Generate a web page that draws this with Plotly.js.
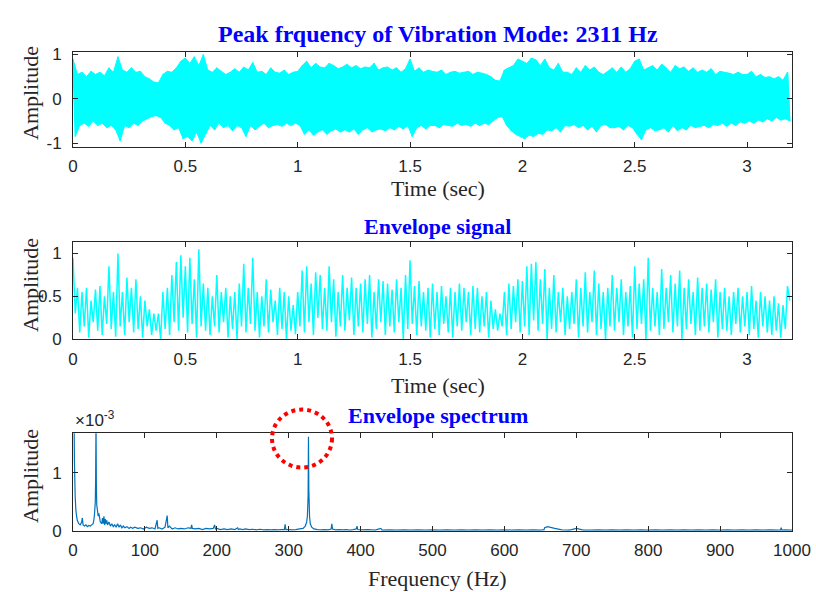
<!DOCTYPE html>
<html><head><meta charset="utf-8">
<script src="https://cdn.plot.ly/plotly-3.0.1.min.js"></script>
<style>html,body{margin:0;padding:0;background:#fff}#chart{width:816px;height:592px}</style>
</head><body><div id="chart"></div>
<script>
// ---- data ----
const sampleStep = 0.02; // seconds per envelope bin
const vibHigh = [
 0.9,0.55,0.6,0.5,0.62,0.55,0.6,0.52,0.7,0.6,
 0.95,0.65,0.6,0.7,0.6,0.62,0.5,0.45,0.38,0.36,
 0.55,0.62,0.6,0.7,0.85,0.92,0.8,0.95,0.75,1.0,
 0.65,0.6,0.7,0.62,0.55,0.6,0.68,0.6,0.72,0.65,
 0.82,0.6,0.62,0.55,0.7,0.6,0.58,0.65,0.55,0.6,
 0.62,0.75,0.85,0.7,0.8,0.72,0.7,0.8,0.75,0.68,
 0.72,0.78,0.7,0.75,0.68,0.72,0.7,0.8,0.65,0.7,
 0.72,0.65,0.7,0.6,0.68,0.9,0.62,0.7,0.6,0.65,
 0.62,0.6,0.65,0.55,0.6,0.62,0.58,0.6,0.62,0.55,
 0.6,0.58,0.55,0.5,0.42,0.4,0.65,0.7,0.75,0.9,
 0.85,0.8,0.92,0.88,0.75,0.9,0.7,0.65,0.8,0.6,
 0.6,0.55,0.7,0.6,0.75,0.65,0.72,0.6,0.55,0.62,
 0.7,0.6,0.72,0.6,0.68,0.85,0.9,0.65,0.7,0.75,
 0.65,0.78,0.7,0.6,0.75,0.68,0.72,0.62,0.7,0.6,
 0.65,0.6,0.68,0.55,0.62,0.6,0.58,0.55,0.6,0.55,
 0.55,0.62,0.5,0.55,0.48,0.5,0.45,0.5,0.42,0.6];
const vibLow = [
 -0.85,-0.6,-0.55,-0.62,-0.5,-0.6,-0.55,-0.65,-0.6,-0.7,
 -0.95,-0.6,-0.65,-0.55,-0.6,-0.5,-0.45,-0.4,-0.38,-0.42,
 -0.55,-0.6,-0.7,-0.65,-0.9,-0.85,-0.95,-0.75,-1.0,-0.8,
 -0.6,-0.7,-0.55,-0.65,-0.6,-0.72,-0.6,-0.65,-0.85,-0.6,
 -0.7,-0.62,-0.55,-0.65,-0.6,-0.58,-0.62,-0.55,-0.6,-0.55,
 -0.6,-0.8,-0.7,-0.82,-0.75,-0.7,-0.8,-0.72,-0.68,-0.75,
 -0.7,-0.75,-0.68,-0.8,-0.7,-0.65,-0.75,-0.7,-0.68,-0.72,
 -0.65,-0.7,-0.62,-0.68,-0.6,-0.85,-0.65,-0.6,-0.68,-0.6,
 -0.6,-0.65,-0.58,-0.6,-0.62,-0.55,-0.6,-0.58,-0.62,-0.55,
 -0.6,-0.55,-0.58,-0.5,-0.42,-0.4,-0.6,-0.72,-0.8,-0.85,
 -0.9,-0.82,-0.85,-0.78,-0.8,-0.7,-0.72,-0.65,-0.75,-0.6,
 -0.62,-0.58,-0.65,-0.6,-0.7,-0.62,-0.75,-0.6,-0.58,-0.65,
 -0.65,-0.62,-0.7,-0.6,-0.65,-0.8,-0.92,-0.7,-0.65,-0.72,
 -0.7,-0.65,-0.75,-0.6,-0.72,-0.65,-0.7,-0.6,-0.65,-0.62,
 -0.6,-0.65,-0.58,-0.6,-0.55,-0.62,-0.55,-0.6,-0.52,-0.55,
 -0.5,-0.55,-0.48,-0.52,-0.45,-0.5,-0.42,-0.48,-0.45,-0.5];
const envHigh = [
 0.95,0.6,0.55,0.6,0.45,0.58,0.62,0.5,0.85,0.55,
 1.0,0.55,0.72,0.6,0.7,0.5,0.45,0.35,0.3,0.3,
 0.55,0.6,0.75,0.9,0.98,0.85,0.95,0.7,1.05,0.65,
 0.6,0.5,0.75,0.55,0.6,0.5,0.55,0.65,0.88,0.6,
 0.95,0.55,0.5,0.7,0.58,0.45,0.6,0.55,0.5,0.4,
 0.55,0.8,0.85,0.65,0.78,0.75,0.6,0.85,0.7,0.55,
 0.75,0.6,0.72,0.6,0.65,0.7,0.75,0.55,0.7,0.68,
 0.65,0.58,0.7,0.6,0.75,0.92,0.62,0.68,0.55,0.6,
 0.65,0.55,0.62,0.5,0.6,0.55,0.65,0.6,0.55,0.62,
 0.6,0.5,0.55,0.45,0.35,0.3,0.55,0.65,0.62,0.7,
 0.68,0.85,0.88,0.9,0.7,0.82,0.6,0.75,0.55,0.6,
 0.5,0.55,0.7,0.6,0.78,0.55,0.8,0.65,0.55,0.6,
 0.75,0.6,0.7,0.55,0.62,0.85,0.65,0.7,0.95,0.6,
 0.55,0.82,0.6,0.75,0.65,0.8,0.6,0.7,0.55,0.72,
 0.6,0.65,0.58,0.7,0.55,0.6,0.5,0.55,0.6,0.5,
 0.55,0.62,0.45,0.55,0.5,0.45,0.5,0.42,0.4,0.62];
const envLow = [
 0.3,0.08,0.15,0.02,0.2,0.1,0.05,0.18,0.12,0.03,
 0.15,0.05,0.2,0.08,0.12,0.02,0.15,0.05,0.1,0.0,
 0.12,0.05,0.2,0.1,0.25,0.08,0.18,0.02,0.15,0.1,
 0.05,0.15,0.08,0.2,0.02,0.12,0.0,0.15,0.08,0.18,
 0.1,0.02,0.15,0.08,0.2,0.05,0.12,0.0,0.1,0.06,
 0.15,0.08,0.2,0.05,0.25,0.12,0.1,0.2,0.03,0.15,
 0.1,0.22,0.05,0.15,0.08,0.18,0.02,0.12,0.2,0.05,
 0.15,0.08,0.2,0.0,0.12,0.18,0.05,0.15,0.1,0.02,
 0.12,0.05,0.18,0.08,0.02,0.15,0.1,0.2,0.05,0.12,
 0.08,0.15,0.02,0.12,0.1,0.15,0.05,0.12,0.2,0.08,
 0.15,0.05,0.22,0.1,0.18,0.0,0.12,0.08,0.2,0.05,
 0.12,0.18,0.02,0.15,0.08,0.2,0.05,0.12,0.0,0.15,
 0.1,0.2,0.05,0.15,0.02,0.12,0.18,0.0,0.1,0.15,
 0.05,0.12,0.2,0.08,0.15,0.0,0.12,0.18,0.05,0.1,
 0.15,0.08,0.2,0.02,0.12,0.1,0.05,0.18,0.08,0.15,
 0.05,0.12,0.02,0.15,0.08,0.05,0.1,0.02,0.12,0.45];
const specFreq = [0,0.5,1,1.5,2,3,4,5,6,8,10,12,13,14,16,18,20,22,24,26,28,29,30,31,31.5,32,32.5,33,34,35,36,38,40,41,42,43,44,45,46,47,48,50,52,54,56,58,60,62,64,66,68,70,72,75,78,80,83,86,90,94,98,102,106,110,114,117,118,120,124,128,131,132,134,138,142,146,150,155,160,164,165,166,170,175,180,185,190,195,197,198,200,205,210,215,220,225,229,230,232,236,240,245,250,255,260,265,270,275,280,285,290,294,295,296,300,305,310,315,320,323,325,326,327,327.5,328,329,330,332,335,340,345,350,355,359,360,361,365,370,375,380,385,390,394,395,396,400,410,420,428,430,440,450,460,470,480,490,500,510,520,530,540,550,560,570,580,590,600,610,620,630,640,650,654,655,656,660,670,680,689,690,691,700,710,720,730,740,750,760,770,780,790,800,810,820,830,840,850,860,870,880,890,900,910,920,930,940,950,960,970,980,984,985,986,990,1000];
const specAmp = [4,3,2.5,1.9,1.2,0.6,0.35,0.25,0.18,0.12,0.1,0.15,0.22,0.1,0.08,0.1,0.07,0.09,0.08,0.1,0.12,0.18,0.3,0.5,0.9,1.9,0.8,0.45,0.35,0.25,0.3,0.15,0.12,0.22,0.12,0.25,0.1,0.2,0.12,0.18,0.1,0.15,0.08,0.12,0.07,0.1,0.06,0.12,0.06,0.1,0.05,0.08,0.05,0.07,0.04,0.06,0.04,0.06,0.04,0.05,0.03,0.06,0.04,0.05,0.03,0.18,0.04,0.05,0.03,0.06,0.26,0.05,0.08,0.03,0.05,0.03,0.04,0.03,0.05,0.04,0.1,0.04,0.03,0.04,0.02,0.04,0.03,0.04,0.1,0.03,0.04,0.02,0.03,0.02,0.03,0.02,0.05,0.02,0.03,0.02,0.03,0.02,0.025,0.015,0.025,0.015,0.02,0.015,0.02,0.015,0.02,0.02,0.11,0.02,0.02,0.015,0.02,0.03,0.04,0.08,0.15,0.25,0.6,1.62,0.7,0.25,0.12,0.06,0.03,0.02,0.015,0.02,0.015,0.03,0.12,0.03,0.015,0.02,0.015,0.02,0.01,0.02,0.03,0.08,0.02,0.015,0.02,0.01,0.04,0.01,0.015,0.01,0.015,0.01,0.015,0.01,0.015,0.01,0.015,0.01,0.015,0.01,0.015,0.01,0.015,0.01,0.015,0.01,0.015,0.01,0.015,0.01,0.015,0.015,0.05,0.07,0.04,0.015,0.01,0.015,0.01,0.04,0.01,0.01,0.015,0.01,0.015,0.01,0.015,0.01,0.015,0.01,0.015,0.01,0.015,0.01,0.015,0.01,0.015,0.01,0.015,0.01,0.015,0.01,0.015,0.01,0.015,0.01,0.015,0.01,0.01,0.05,0.01,0.015,0.01];
const timeTicks = [0,0.5,1,1.5,2,2.5,3];
const timeTickText = ['0','0.5','1','1.5','2','2.5','3'];
const freqTicks = [0,100,200,300,400,500,600,700,800,900,1000];
const vibTicks = [-1,0,1];
const vibTickText = ['-1','0','1'];
const envTicks = [0,0.5,1];
const specTicks = [0,1];
const titles = ['Peak frquency of Vibration Mode: 2311 Hz','Envelope signal','Envelope spectrum'];

// ---- build zig-zag traces (max then min in each bin) ----
function zigzag(hi, lo){
  const x = [], y = [];
  for (let i = 0; i < hi.length; i++){
    x.push(i*sampleStep); y.push(hi[i]);
    x.push(i*sampleStep + sampleStep/2); y.push(lo[i]);
  }
  return {x, y};
}
// closed band polygon (upper envelope forward, lower envelope back)
function band(hi, lo){
  const x = [], y = [];
  for (let i = 0; i < hi.length; i++){ x.push(i*sampleStep); y.push(hi[i]); }
  for (let i = lo.length-1; i >= 0; i--){ x.push(i*sampleStep + sampleStep/2); y.push(lo[i]); }
  return {x, y};
}
const vib = zigzag(vibHigh, vibLow);
const vibBand = band(vibHigh, vibLow);
const env = zigzag(envHigh, envLow);

const H = 592;
const frac = px => (H - px)/H;
const dom1 = [frac(146.7), frac(52.3)];
const dom2 = [frac(339.3), frac(242.3)];
const dom3 = [frac(530.7), frac(433.3)];
const ranges = {y1:[-1.08,1.05], y2:[0,1.13], y3:[0,1.68]};

const tickFont = {family:'Liberation Sans, Arial, sans-serif', size:17, color:'#262626'};
const serif = 'Liberation Serif, Times New Roman, serif';
function ax(extra){
  return Object.assign({showline:true, mirror:'ticks', linecolor:'#262626', linewidth:1,
    ticks:'inside', ticklen:5, tickcolor:'#262626', tickwidth:1, showgrid:false, zeroline:false,
    tickfont:tickFont, fixedrange:true}, extra);
}

const traces = [
  {x:vibBand.x, y:vibBand.y, xaxis:'x', yaxis:'y', type:'scatter', mode:'lines', fill:'toself', fillcolor:'#00FFFF', line:{color:'#00FFFF', width:1, simplify:false}, hoverinfo:'skip'},
  {x:vib.x, y:vib.y, xaxis:'x', yaxis:'y', type:'scatter', mode:'lines', line:{color:'#00FFFF', width:1.5, simplify:false}, hoverinfo:'skip'},
  {x:env.x, y:env.y, xaxis:'x2', yaxis:'y2', type:'scatter', mode:'lines', line:{color:'#00FFFF', width:1.5, simplify:false}, hoverinfo:'skip'},
  {x:specFreq, y:specAmp, xaxis:'x3', yaxis:'y3', type:'scatter', mode:'lines', line:{color:'#0072BD', width:1.2, simplify:false}, hoverinfo:'skip'}
];

// locate the highlighted peak (300-400 Hz) from the data
let pk = -1;
for (let i = 0; i < specFreq.length; i++){
  if (specFreq[i] > 300 && specFreq[i] < 400 && (pk < 0 || specAmp[i] > specAmp[pk])) pk = i;
}
const fx = f => f/1000;
const fy = a => dom3[0] + (a - ranges.y3[0])/(ranges.y3[1]-ranges.y3[0])*(dom3[1]-dom3[0]);
const cx = fx(specFreq[pk]) - 0.009, cy = fy(specAmp[pk]) - 0.003;
const rxp = 30/719, ryp = 29/592;

const titleY = [frac(34), frac(226), frac(416)];
const xTitleY = [frac(188), frac(386), frac(578)];
const xTitles = ['Time (sec)','Time (sec)','Frequency (Hz)'];
const ampY = [frac(93), frac(285), frac(476)];
const annotations = [];
for (let k = 0; k < 3; k++){
  annotations.push({text:'<b>'+titles[k]+'</b>', xref:'paper', yref:'paper', x:0.507, y:titleY[k], xanchor:'center', yanchor:'middle', showarrow:false, font:{family:serif, size:k===0?24:22, color:'#0000FF'}});
  annotations.push({text:xTitles[k], xref:'paper', yref:'paper', x:0.507, y:xTitleY[k], xanchor:'center', yanchor:'middle', showarrow:false, font:{family:serif, size:22, color:'#262626'}});
  annotations.push({text:'Amplitude', xref:'paper', yref:'paper', x:(30-73)/719, y:ampY[k], xanchor:'center', yanchor:'middle', textangle:-90, showarrow:false, font:{family:serif, size:22, color:'#262626'}});
}
annotations.push({text:'×10<sup>-3</sup>', xref:'paper', yref:'paper', x:0, y:frac(419), xanchor:'left', yanchor:'middle', showarrow:false, font:tickFont});

const layout = {
  width:816, height:592, margin:{l:73, r:24, t:0, b:0}, paper_bgcolor:'#fff', plot_bgcolor:'#fff', showlegend:false,
  xaxis: ax({domain:[0,1], range:[0,3.2], tickvals:timeTicks, ticktext:timeTickText, anchor:'y', ticklabelstandoff:4}),
  yaxis: ax({domain:dom1, range:ranges.y1, tickvals:vibTicks, ticktext:vibTickText, anchor:'x', ticklabelstandoff:7}),
  xaxis2: ax({domain:[0,1], range:[0,3.2], tickvals:timeTicks, ticktext:timeTickText, anchor:'y2', ticklabelstandoff:4}),
  yaxis2: ax({domain:dom2, range:ranges.y2, tickvals:envTicks, anchor:'x2', ticklabelstandoff:7}),
  xaxis3: ax({domain:[0,1], range:[0,1000], tickvals:freqTicks, anchor:'y3', ticklabelstandoff:4}),
  yaxis3: ax({domain:dom3, range:ranges.y3, tickvals:specTicks, anchor:'x3', ticklabelstandoff:7}),
  annotations: annotations,
  shapes: [{type:'circle', xref:'paper', yref:'paper', x0:cx-rxp, x1:cx+rxp, y0:cy-ryp, y1:cy+ryp, line:{color:'#FF0000', width:4, dash:'dot'}, layer:'above'}]
};
Plotly.newPlot('chart', traces, layout, {staticPlot:true, displayModeBar:false});
</script>
</body></html>
